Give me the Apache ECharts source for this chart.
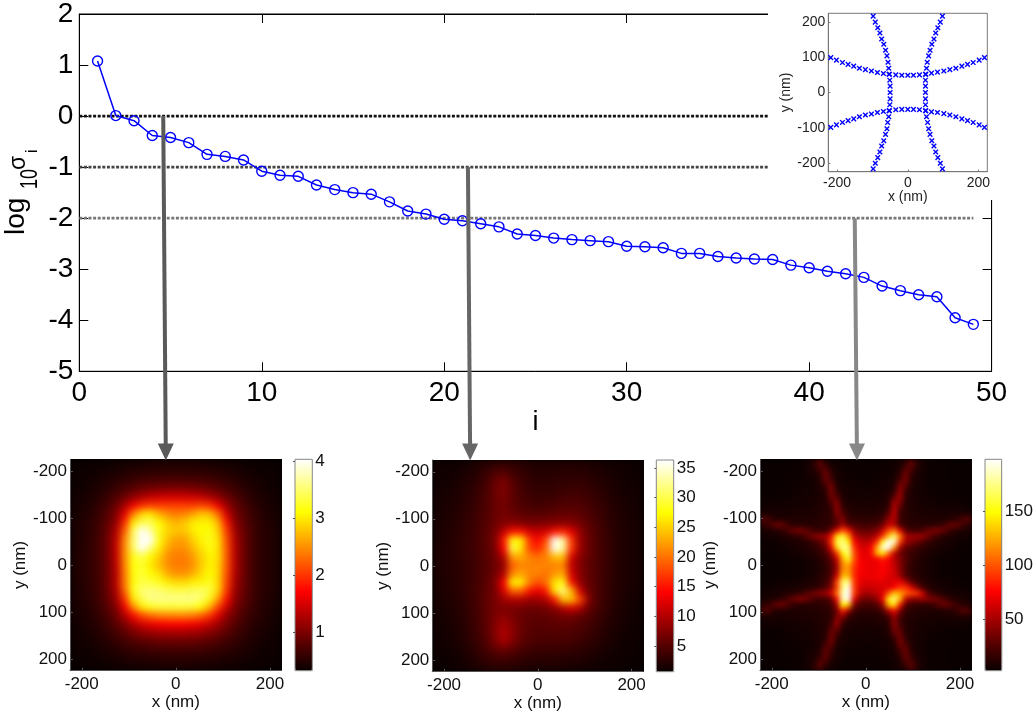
<!DOCTYPE html>
<html><head><meta charset="utf-8">
<style>
html,body{margin:0;padding:0;background:#fff}
#c{width:1036px;height:716px}
canvas[data-zr-dom-id="zr_1"]{filter:blur(3.6px);clip-path:inset(459.3px 754.3px 45.3px 70px)}
canvas[data-zr-dom-id="zr_2"]{filter:blur(3.7px);clip-path:inset(460px 392.7px 44.3px 432.3px)}
canvas[data-zr-dom-id="zr_3"]{filter:blur(2.6px);clip-path:inset(459.3px 64.3px 45.3px 760px)}
</style>
<script src="https://cdn.jsdelivr.net/npm/echarts@6/dist/echarts.min.js"></script>
</head><body><div id="c"></div>
<script>
// ---------- main singular-value curve ----------
const logSigma = [1.08,0.01,-0.09,-0.38,-0.42,-0.52,-0.75,-0.79,-0.86,-1.08,-1.16,-1.18,-1.35,-1.44,-1.50,-1.53,-1.68,-1.86,-1.92,-2.02,-2.05,-2.11,-2.17,-2.31,-2.34,-2.39,-2.42,-2.44,-2.46,-2.55,-2.56,-2.58,-2.69,-2.69,-2.75,-2.78,-2.80,-2.81,-2.92,-2.97,-3.04,-3.09,-3.16,-3.33,-3.42,-3.50,-3.54,-3.95,-4.08];
const indexValues = logSigma.map((_, k) => k + 1);
const levelValues = [0,-1,-2];
const levelColors = ['#111111','#444444','#777777'];
const levelEnd = 49;
// arrows: start / end in main-axes units
const arrowStartX = [4.6,21.3,42.5];
const arrowStartY = [0,-1,-2];
const arrowEndX = [4.74,21.42,42.62];
const arrowEndY = -6.58;
const arrowColors = ['#5a5a5a','#666666','#888888'];

// ---------- inset: nanowire positions (nm) ----------
const topCurveX = [-218,-202,-185,-169,-153,-137,-120,-103,-86,-69,-53,-34,-17,0,16,33,50,67,84,102,119,136,153,169,185,202,217];
const topCurveY = [99,92,85,80,75,69,65,61,57,54,52,50,49,49,49,50,52,55,58,61,65,69,75,80,85,92,99];
const bottomCurveY = [-99,-92,-85,-80,-75,-69,-64,-61,-57,-54,-52,-49,-48,-48,-48,-49,-52,-55,-57,-60,-64,-69,-75,-80,-85,-92,-99];
const leftCurveX = [-98,-92,-85,-79,-74,-68,-63,-59,-56,-54,-52,-51,-50,-50,-50,-51,-52,-54,-57,-59,-63,-68,-74,-79,-85,-92,-98];
const rightCurveX = [98,92,85,79,74,68,63,59,55,53,51,50,50,50,50,50,51,53,56,59,63,68,74,79,85,92,98];
const sideCurveY = [217,200,184,169,152,137,120,104,86,69,52,35,18,0,-18,-35,-52,-69,-85,-103,-119,-137,-152,-169,-185,-201,-217];

// ---------- heat maps: rows top to bottom, columns left to right ----------
const heatA = [
[.33,.33,.34,.35,.36,.38,.40,.41,.43,.44,.45,.45,.45,.45,.45,.44,.43,.41,.40,.38,.36,.35,.34,.33,.33],
[.34,.35,.36,.38,.41,.44,.47,.50,.52,.54,.55,.56,.56,.56,.55,.54,.52,.50,.47,.44,.41,.38,.36,.35,.34],
[.35,.36,.39,.42,.47,.52,.58,.63,.68,.71,.73,.74,.74,.74,.73,.71,.68,.63,.58,.52,.47,.42,.39,.36,.35],
[.36,.38,.42,.47,.54,.63,.72,.82,.90,.96,1.0,1.02,1.03,1.02,1.0,.96,.90,.82,.72,.63,.54,.47,.42,.38,.36],
[.38,.41,.45,.52,.63,.76,.93,1.12,1.28,1.40,1.46,1.49,1.5,1.49,1.46,1.40,1.28,1.12,.93,.76,.63,.52,.45,.41,.38],
[.39,.43,.49,.58,.72,.93,1.25,1.65,1.95,2.05,2.05,2.05,2.05,2.05,2.05,2.1,2.0,1.65,1.2,.9,.72,.58,.49,.43,.39],
[.41,.45,.52,.63,.80,1.05,1.6,2.4,2.9,3.0,2.7,2.5,2.4,2.45,2.6,2.8,2.75,2.3,1.5,1.0,.8,.63,.52,.45,.41],
[.42,.47,.55,.67,.87,1.15,1.95,3.0,3.4,3.4,3.1,2.85,2.7,2.8,3.0,3.05,3.05,2.7,1.85,1.1,.85,.66,.54,.47,.42],
[.43,.48,.57,.69,.92,1.3,2.25,3.4,4.03,3.7,3.2,2.9,2.8,2.8,3.0,3.1,3.15,2.85,2.05,1.2,.9,.68,.55,.48,.43],
[.44,.49,.58,.7,.95,1.38,2.45,3.5,4.03,4.03,3.2,2.8,2.6,2.6,2.85,3.05,3.2,2.95,2.15,1.3,.93,.69,.56,.48,.44],
[.44,.49,.58,.7,.95,1.4,2.5,3.45,4.03,3.6,3.05,2.65,2.5,2.5,2.7,2.95,3.15,2.95,2.2,1.32,.94,.69,.56,.48,.44],
[.44,.5,.58,.7,.95,1.4,2.5,3.2,3.4,3.1,2.85,2.5,2.4,2.4,2.55,2.85,3.05,2.95,2.2,1.32,.94,.69,.56,.48,.44],
[.44,.5,.58,.7,.93,1.38,2.45,3.15,3.25,3.0,2.75,2.5,2.38,2.38,2.5,2.8,3.05,2.9,2.2,1.32,.94,.69,.56,.48,.44],
[.44,.5,.58,.7,.93,1.35,2.4,3.15,3.3,3.1,2.95,2.65,2.5,2.5,2.65,2.9,3.1,2.9,2.15,1.3,.93,.69,.56,.48,.44],
[.44,.49,.58,.7,.93,1.35,2.4,3.15,3.35,3.3,3.2,3.0,2.9,2.9,3.0,3.05,3.2,2.9,2.1,1.25,.92,.69,.56,.48,.44],
[.43,.48,.57,.69,.92,1.3,2.3,3.2,3.5,3.55,3.5,3.4,3.35,3.35,3.4,3.45,3.35,2.9,2.0,1.2,.9,.68,.55,.48,.43],
[.42,.47,.55,.67,.88,1.2,2.0,3.0,3.4,3.6,3.6,3.6,3.6,3.6,3.6,3.5,3.2,2.6,1.8,1.1,.86,.66,.54,.47,.42],
[.41,.46,.53,.64,.82,1.05,1.65,2.45,3.0,3.2,3.3,3.3,3.3,3.3,3.3,3.1,2.7,2.05,1.45,1.0,.8,.63,.52,.45,.41],
[.4,.44,.5,.6,.74,.94,1.3,1.75,2.1,2.3,2.4,2.45,2.45,2.45,2.4,2.25,2.0,1.55,1.15,.9,.72,.59,.5,.44,.4],
[.38,.42,.47,.55,.66,.82,1.02,1.27,1.48,1.6,1.68,1.72,1.72,1.72,1.68,1.58,1.42,1.2,.98,.8,.65,.54,.47,.42,.38],
[.37,.4,.44,.5,.59,.7,.84,.98,1.1,1.18,1.22,1.25,1.25,1.25,1.22,1.17,1.08,.96,.82,.69,.58,.5,.44,.4,.37],
[.36,.38,.41,.46,.52,.6,.68,.76,.83,.87,.9,.92,.92,.92,.9,.87,.82,.75,.67,.59,.52,.46,.41,.38,.36],
[.35,.36,.38,.42,.46,.51,.56,.61,.64,.67,.69,.7,.7,.7,.69,.67,.64,.6,.56,.51,.46,.42,.38,.36,.35],
[.34,.35,.36,.38,.41,.44,.46,.49,.51,.52,.53,.54,.54,.54,.53,.52,.51,.49,.46,.44,.41,.38,.36,.35,.34],
[.33,.33,.34,.35,.36,.38,.39,.41,.42,.43,.44,.44,.44,.44,.44,.43,.42,.41,.39,.38,.36,.35,.34,.33,.33]];
const heatB = [
[1,1,1,1.2,1.5,2,2.5,3,3.3,3,2.6,2.2,2,2,2,2,2,2,1.8,1.6,1.4,1.2,1,1,.8],
[1,1,1.2,1.5,1.9,2.6,3.5,4.6,5,4,3.2,2.7,2.4,2.4,2.4,2.5,2.5,2.5,2.3,2,1.7,1.4,1.2,1,.9],
[1.1,1.2,1.4,1.8,2.3,3,4.2,6,7,5.2,3.9,3.1,2.7,2.7,2.8,2.9,3,3,2.8,2.4,2,1.6,1.3,1.1,1],
[1.2,1.3,1.6,2,2.6,3.4,4.5,6.5,7.3,5.6,4.2,3.4,3,3,3.2,3.5,3.7,3.6,3.3,2.8,2.3,1.8,1.4,1.2,1.1],
[1.3,1.5,1.8,2.2,2.8,3.6,4.7,6.3,7,5.6,4.5,3.8,3.5,3.6,3.9,4.2,4.4,4.3,3.8,3.2,2.6,2,1.6,1.3,1.2],
[1.4,1.6,2,2.4,3,3.8,4.9,6.2,6.7,5.7,4.9,4.4,4.2,4.4,4.7,5,5.1,4.9,4.3,3.6,2.9,2.2,1.7,1.4,1.2],
[1.5,1.7,2.1,2.6,3.2,4,5,6.2,6.8,6.3,5.7,5.4,5.3,5.5,5.8,6,6,5.6,4.8,4,3.1,2.4,1.8,1.5,1.3],
[1.6,1.8,2.2,2.7,3.3,4.2,5.2,6.5,7.5,8,7.6,7.2,7.2,7.4,7.8,8,7.8,6.8,5.5,4.3,3.3,2.5,1.9,1.6,1.3],
[1.7,1.9,2.3,2.8,3.4,4.3,5.4,7,11,15,15,12,11,12,15,16,13,8.5,6,4.6,3.5,2.6,2,1.6,1.3],
[1.7,2,2.4,2.9,3.5,4.4,5.5,7.5,15,28,27,17,14,18,36,33,17,9,6.3,4.7,3.6,2.7,2,1.6,1.3],
[1.8,2,2.4,2.9,3.5,4.4,5.4,7.2,14,30,26,18,16,20,36,33,17,9,6.3,4.8,3.6,2.7,2,1.6,1.4],
[1.8,2,2.4,2.9,3.5,4.3,5.3,6.8,10,22,23,21,20,21,24,24,12,8,6,4.8,3.6,2.7,2,1.7,1.4],
[1.8,2,2.4,2.8,3.4,4.2,5.2,6.5,8.5,19,21,21,21,21,21,21,11,7.5,5.8,4.7,3.6,2.7,2,1.7,1.4],
[1.8,2,2.4,2.8,3.4,4.3,5.3,6.8,10,21,23,21,21,20,22,23,12,8,5.9,4.7,3.6,2.7,2,1.7,1.4],
[1.7,2,2.3,2.8,3.5,4.4,5.5,7.5,14,27,27,21,18,20,26,28,15,8.5,6,4.7,3.5,2.6,2,1.6,1.3],
[1.6,1.9,2.3,2.8,3.5,4.5,5.7,7.2,12,19,19,15,13,15,26,32,24,12,6.7,4.8,3.5,2.6,1.9,1.5,1.3],
[1.5,1.8,2.2,2.7,3.4,4.5,5.8,7,9,10,10,9,9,10,15,24,24,18,8,4.8,3.4,2.5,1.8,1.4,1.2],
[1.4,1.6,2.1,2.6,3.4,4.5,5.8,7,7.3,7,6.7,6.4,6.4,6.8,8,10,12,10,6.3,4.5,3.2,2.3,1.7,1.3,1.1],
[1.3,1.5,1.9,2.4,3.2,4.3,5.7,7.3,8.2,7.2,6.3,5.7,5.6,5.8,6.2,6.6,6.6,5.8,4.9,3.9,2.9,2.1,1.6,1.2,1],
[1.2,1.4,1.8,2.3,3.1,4.2,5.6,7.6,9.2,7.8,6.2,5.5,5.2,5.3,5.5,5.6,5.4,4.9,4.2,3.4,2.6,1.9,1.4,1.1,1],
[1.1,1.3,1.7,2.2,2.9,4,5.4,7.8,10,8.2,6.2,5.3,4.9,4.9,5,4.9,4.7,4.3,3.6,2.9,2.2,1.7,1.3,1,.9],
[1,1.2,1.5,2,2.7,3.7,5,7.2,9,7.4,5.7,4.8,4.4,4.3,4.3,4.2,4,3.6,3.1,2.5,1.9,1.5,1.1,1,.8],
[.9,1,1.3,1.7,2.3,3.2,4.2,5.5,6,5.2,4.4,3.8,3.5,3.4,3.4,3.3,3.1,2.8,2.4,2,1.6,1.2,1,.9,.8],
[.8,.9,1.1,1.4,1.9,2.6,3.3,3.8,3.9,3.6,3.1,2.7,2.5,2.5,2.5,2.4,2.3,2.1,1.8,1.5,1.2,1,.9,.8,.7],
[.7,.8,.9,1.2,1.5,2,2.4,2.7,2.7,2.5,2.2,2,1.9,1.8,1.8,1.8,1.7,1.5,1.3,1.1,1,.9,.8,.7,.7]];
const heatC = [
[2,2,2,2,2,3,3,4,6,14,28,10,5,4,3,3,3,3,3,3,3,3,4,5,7,14,30,12,6,4,3,3,3,2,2,2,2],
[2,2,2,2,2,3,3,4,7,10,26,24,8,5,4,3,3,3,3,3,3,4,4,5,8,24,28,10,6,4,3,3,3,2,2,2,2],
[2,2,2,2,3,3,3,4,6,8,14,34,16,6,5,4,4,3,3,3,4,4,5,6,14,36,16,8,5,4,3,3,3,2,2,2,2],
[2,2,2,2,3,3,3,4,5,7,10,34,20,7,5,4,4,4,4,4,4,5,5,7,20,38,12,7,5,4,3,3,3,2,2,2,2],
[2,2,2,3,3,3,4,4,5,6,9,22,36,9,6,5,5,4,4,4,5,5,6,9,36,30,10,6,5,4,3,3,3,3,2,2,2],
[2,2,3,3,3,4,4,5,5,6,8,14,38,14,7,6,5,5,5,5,5,6,7,14,44,18,9,6,5,4,4,3,3,3,2,2,2],
[3,3,3,3,4,4,5,5,6,7,8,11,36,24,8,7,6,6,5,6,6,7,9,26,50,14,9,7,5,5,4,4,3,3,3,3,3],
[4,4,4,4,5,5,5,6,6,7,9,10,26,40,10,8,7,7,6,7,7,8,11,48,40,12,9,7,6,5,5,4,4,4,4,4,3],
[5,5,5,5,5,6,6,7,7,8,9,11,17,44,16,10,9,8,8,8,9,10,16,56,26,12,9,8,7,6,6,5,5,5,5,5,4],
[8,7,7,7,7,7,8,8,8,9,10,12,14,42,26,12,11,10,10,10,11,13,28,60,20,12,10,9,8,7,7,7,7,8,8,8,8],
[26,22,12,9,9,9,9,9,10,10,11,13,15,32,38,17,15,14,13,14,16,20,44,56,20,13,11,10,9,9,9,9,9,10,14,24,28],
[14,18,30,34,26,14,11,11,11,12,13,14,18,28,48,28,24,21,20,21,24,34,60,55,22,15,13,12,12,11,12,14,24,34,32,20,14],
[7,8,10,13,20,30,38,36,28,18,16,18,34,70,100,80,42,32,30,32,38,60,95,110,70,28,20,18,24,34,40,38,28,16,11,9,7],
[5,5,6,7,9,11,14,20,30,40,46,48,80,140,160,120,62,46,44,46,60,90,135,170,115,55,48,50,46,34,22,14,10,8,6,5,5],
[3,4,4,5,6,7,8,10,13,18,28,40,90,160,175,145,78,60,54,62,90,155,198,190,95,48,40,32,24,16,12,9,7,6,5,4,3],
[3,3,4,4,5,6,7,8,11,14,20,30,70,140,180,170,90,66,64,76,125,190,198,120,52,30,24,18,14,11,9,7,6,5,4,3,3],
[2,3,3,4,4,5,6,7,9,11,15,22,44,90,150,170,100,72,68,78,125,145,105,60,34,24,18,14,10,8,6,5,4,4,3,3,2],
[2,2,2,3,3,4,4,5,6,8,11,17,30,62,125,155,100,74,70,72,74,84,74,56,40,26,17,12,9,7,5,4,4,3,3,2,2],
[2,2,2,2,3,3,4,4,5,7,9,15,24,50,115,125,92,76,72,70,72,76,70,60,40,24,15,11,8,6,5,4,3,3,2,2,2],
[2,2,2,2,3,3,4,4,5,7,9,14,24,50,115,120,88,74,72,70,72,76,70,62,44,24,15,11,8,6,5,4,3,3,2,2,2],
[2,2,2,3,3,4,4,5,6,8,11,16,28,66,130,130,88,74,72,72,74,74,68,64,48,26,17,12,9,7,5,4,4,3,3,2,2],
[3,3,3,4,4,5,5,6,8,10,13,19,34,95,170,175,92,70,66,66,68,68,64,68,72,52,28,18,12,9,7,5,5,4,3,3,3],
[4,4,5,5,6,6,7,8,10,12,16,24,42,95,175,195,92,64,60,62,64,64,68,76,90,90,68,40,20,12,8,6,5,5,4,4,3],
[5,5,6,7,9,11,14,20,28,36,42,48,64,110,185,198,95,58,50,52,58,66,100,135,125,105,96,90,60,25,16,11,8,6,5,5,5],
[7,8,10,13,20,30,38,40,32,22,18,20,30,80,185,195,70,38,33,35,44,72,145,175,130,60,44,42,48,40,38,30,20,13,9,8,7],
[12,18,28,36,30,18,12,11,11,12,13,15,20,52,150,130,38,24,20,21,26,46,125,145,82,28,18,15,13,14,20,30,34,26,18,12,9],
[24,26,12,9,9,9,9,9,10,10,11,13,17,36,85,52,20,15,14,15,17,24,56,78,40,16,13,11,10,9,9,9,10,12,18,28,26],
[9,8,7,7,7,7,8,8,8,9,10,11,13,38,46,18,12,10,10,10,11,13,22,48,24,12,10,9,8,7,7,7,7,8,8,10,10],
[5,5,5,5,5,6,6,7,7,8,9,11,17,50,20,10,9,8,8,8,9,10,14,44,20,11,9,8,7,6,6,5,5,5,5,5,5],
[4,4,4,4,5,5,5,6,6,7,9,10,26,38,10,8,7,7,6,7,7,8,11,40,26,10,9,7,6,5,5,4,4,4,4,4,3],
[3,3,3,3,4,4,5,5,6,7,8,11,36,22,8,7,6,6,5,6,6,7,9,30,34,12,9,7,5,5,4,4,3,3,3,3,3],
[2,2,3,3,3,4,4,5,5,6,8,14,36,14,7,6,5,5,5,5,5,6,7,14,38,16,9,6,5,4,4,3,3,3,2,2,2],
[2,2,2,3,3,3,4,4,5,6,9,22,32,9,6,5,5,4,4,4,5,5,6,9,36,24,10,6,5,4,3,3,3,3,2,2,2],
[2,2,2,2,3,3,3,4,5,7,10,32,18,7,5,4,4,4,4,4,4,5,5,7,20,34,12,7,5,4,3,3,3,2,2,2,2],
[2,2,2,2,3,3,3,4,6,8,14,32,14,6,5,4,4,3,3,3,4,4,5,6,14,34,16,8,5,4,3,3,3,2,2,2,2],
[2,2,2,2,2,3,3,4,7,10,26,22,8,5,4,3,3,3,3,3,3,4,4,5,8,24,26,10,6,4,3,3,3,2,2,2,2],
[2,2,2,2,2,3,3,4,6,14,26,10,5,4,3,3,3,3,3,3,3,3,4,5,7,14,28,12,6,4,3,3,3,2,2,2,2]];
const barTicksA = [1,2,3,4];
const barTicksB = [5,10,15,20,25,30,35];
const barTicksC = [50,100,150];
const barRanges = [[0.33,4.03],[0.67,36.35],[2.2,198.7]];
const nmLabels = [-200,0,200];
const nmTicksX = [-200,0,200];
const nmTicksY = [-200,-100,0,100,200];
const nmLimit = 225;
const hot = ['#0a0000','#550000','#aa0000','#ff0000','#ff5500','#ffaa00','#ffff00','#ffff80','#ffffff'];

const FONT = '"Liberation Sans", Arial, sans-serif';
const panels = [
  {heat:heatA, bar:barTicksA, range:barRanges[0], x:70,    y:459.3, w:211.7, h:211.4, bx:295,   bw:17.3, zl:1},
  {heat:heatB, bar:barTicksB, range:barRanges[1], x:432.3, y:460,   w:211,   h:211.7, bx:656.3, bw:17.4, zl:2},
  {heat:heatC, bar:barTicksC, range:barRanges[2], x:760,   y:459.3, w:211.7, h:211.4, bx:985,   bw:17.3, zl:3}
];
const OVER = 5, TOP = 6;
const grids = [{left:79.3, top:12.3, width:912.3, height:359, show:true, borderColor:'#000', borderWidth:1},
               {left:828.3, top:13.3, width:159, height:158.4, show:true, borderColor:'#777', borderWidth:1, z:10}];
const xAxes = [
  {gridIndex:0, type:'value', min:0, max:50, interval:10, splitLine:{show:false},
   axisLine:{onZero:false,lineStyle:{color:'#000',width:1}}, axisTick:{inside:true,length:9,lineStyle:{color:'#000'}},
   axisLabel:{fontFamily:FONT,fontSize:28,color:'#000',margin:8,showMinLabel:true,showMaxLabel:true,hideOverlap:false},
   name:'i', nameLocation:'middle', nameGap:38, nameTextStyle:{fontFamily:FONT,fontSize:27,color:'#000'}},
  {gridIndex:0, type:'value', position:'top', min:0, max:50, interval:10, splitLine:{show:false},
   axisLine:{onZero:false,lineStyle:{color:'#000',width:1}}, axisTick:{inside:true,length:9,lineStyle:{color:'#000'}}, axisLabel:{show:false}},
  {gridIndex:1, type:'value', min:-nmLimit, max:nmLimit, z:10, splitLine:{show:false},
   axisLine:{onZero:false,lineStyle:{color:'#777'}}, axisTick:{inside:true,length:2,lineStyle:{color:'#777'},customValues:nmTicksX},
   axisLabel:{fontFamily:FONT,fontSize:14,color:'#222',margin:4,customValues:nmLabels},
   name:'x (nm)', nameLocation:'middle', nameGap:17, nameTextStyle:{fontFamily:FONT,fontSize:14,color:'#222'}}
];
const yAxes = [
  {gridIndex:0, type:'value', min:-5, max:2, interval:1, splitLine:{show:false},
   axisLine:{onZero:false,lineStyle:{color:'#000',width:1}}, axisTick:{inside:true,length:9,lineStyle:{color:'#000'}},
   axisLabel:{fontFamily:FONT,fontSize:28,color:'#000',margin:6,showMinLabel:true,showMaxLabel:true,hideOverlap:false}},
  {gridIndex:0, type:'value', position:'right', min:-5, max:2, interval:1, splitLine:{show:false},
   axisLine:{onZero:false,lineStyle:{color:'#000',width:1}}, axisTick:{inside:true,length:9,lineStyle:{color:'#000'}}, axisLabel:{show:false}},
  {gridIndex:1, type:'value', min:-nmLimit, max:nmLimit, z:10, splitLine:{show:false},
   axisLine:{onZero:false,lineStyle:{color:'#777'}}, axisTick:{inside:true,length:2,lineStyle:{color:'#777'},customValues:nmTicksY},
   axisLabel:{fontFamily:FONT,fontSize:14,color:'#222',margin:3,customValues:nmTicksY},
   name:'y (nm)', nameLocation:'middle', nameGap:28, nameTextStyle:{fontFamily:FONT,fontSize:14,color:'#222'}}
];
const series = [];
// reference levels
levelValues.forEach((v,k)=>series.push({type:'line',xAxisIndex:0,yAxisIndex:0,symbol:'none',silent:true,z:2,
  data:[[0,v],[levelEnd,v]],lineStyle:{color:levelColors[k],width:2.6,type:[3,1.6]}}));
// singular values
series.push({type:'line',xAxisIndex:0,yAxisIndex:0,z:3,symbol:'circle',symbolSize:10,showAllSymbol:true,
  data:indexValues.map((x,k)=>[x,logSigma[k]]),lineStyle:{color:'#0000ff',width:1.5},
  itemStyle:{color:'transparent',borderColor:'#0000ff',borderWidth:1.4}});
// inset curves
const cross='path://M0 0L10 10M0 10L10 0';
[[topCurveX,topCurveY],[topCurveX,bottomCurveY],[leftCurveX,sideCurveY],[rightCurveX,sideCurveY]].forEach(([xs,ys])=>{
  series.push({type:'scatter',xAxisIndex:2,yAxisIndex:2,z:11,symbol:cross,symbolSize:4.6,
    data:xs.map((x,k)=>[x,ys[k]]),itemStyle:{color:'none',borderColor:'#0000ff',borderWidth:1.4,opacity:1}});
});
const visualMaps = [], graphics = [];
panels.forEach((p,n)=>{
  // heat cells on band axes
  const gi = grids.length;
  grids.push({left:p.x,top:p.y,width:p.w,height:p.h});
  const cells = p.heat[0].map((_,k)=>k);
  xAxes.push({gridIndex:gi,type:'category',data:cells,show:false,zlevel:p.zl});
  yAxes.push({gridIndex:gi,type:'category',data:cells,inverse:true,show:false,zlevel:p.zl});
  const data=[]; p.heat.forEach((row,r)=>row.forEach((v,c)=>data.push([c,r,v])));
  const si = series.length;
  series.push({type:'heatmap',xAxisIndex:xAxes.length-1,yAxisIndex:yAxes.length-1,data,zlevel:p.zl,z:3,
    progressive:0,animation:false,itemStyle:{borderWidth:0},emphasis:{disabled:true}});
  visualMaps.push({type:'continuous',seriesIndex:si,min:p.range[0],max:p.range[1],inRange:{color:hot},
    left:p.bx,top:p.y,itemWidth:p.bw,itemHeight:p.h,padding:0,text:null,calculable:false,hoverLink:false,zlevel:0});
  graphics.push({type:'rect',zlevel:p.zl,z:0,shape:{x:p.x-16,y:p.y-16,width:p.w+32,height:p.h+32},style:{fill:'#000'},silent:true});
  // nm axes over the cells
  const gv = grids.length;
  grids.push({left:p.x,top:p.y,width:p.w,height:p.h});
  xAxes.push({gridIndex:gv,type:'value',min:-nmLimit,max:nmLimit,zlevel:OVER,splitLine:{show:false},
    axisLine:{onZero:false,lineStyle:{color:'#555'}},axisTick:{inside:true,length:3,lineStyle:{color:'#555'},customValues:nmTicksX},
    axisLabel:{fontFamily:FONT,fontSize:17,color:'#111',margin:5,customValues:nmLabels},
    name:'x (nm)',nameLocation:'middle',nameGap:22,nameTextStyle:{fontFamily:FONT,fontSize:17,color:'#111'}});
  yAxes.push({gridIndex:gv,type:'value',min:-nmLimit,max:nmLimit,inverse:true,zlevel:OVER,splitLine:{show:false},
    axisLine:{onZero:false,lineStyle:{color:'#555'}},axisTick:{inside:true,length:3,lineStyle:{color:'#555'},customValues:nmTicksY},
    axisLabel:{fontFamily:FONT,fontSize:17,color:'#111',margin:3,customValues:nmTicksY},
    name:'y (nm)',nameLocation:'middle',nameGap:36,nameTextStyle:{fontFamily:FONT,fontSize:17,color:'#111'}});
  // colour bar ticks
  const gb = grids.length;
  grids.push({left:p.bx,top:p.y,width:p.bw,height:p.h,show:true,borderColor:'#888',borderWidth:1,backgroundColor:'transparent',zlevel:OVER});
  xAxes.push({gridIndex:gb,type:'value',min:0,max:1,show:false});
  yAxes.push({gridIndex:gb,type:'value',position:'right',min:p.range[0],max:p.range[1],zlevel:OVER,splitLine:{show:false},
    axisLine:{show:false},axisTick:{inside:true,length:2,lineStyle:{color:'#555'},customValues:p.bar},
    axisLabel:{fontFamily:FONT,fontSize:17,color:'#111',margin:3,customValues:p.bar}});
});
// arrows
arrowStartX.forEach((x,k)=>series.push({type:'line',xAxisIndex:0,yAxisIndex:0,clip:false,zlevel:TOP,z:20,silent:true,showAllSymbol:true,
  data:[{value:[x,arrowStartY[k]],symbol:'none'},
        {value:[arrowEndX[k],arrowEndY],symbol:'triangle',symbolRotate:180,symbolSize:[16,17]}],
  lineStyle:{color:arrowColors[k],width:4},itemStyle:{color:arrowColors[k]}}));
// white panel behind the inset; y-label pieces
graphics.push({type:'rect',z:5,shape:{x:768,y:0,width:268,height:200},style:{fill:'#fff'},silent:true});
const labelPieces=[['log',30,235,28,1],['10',43,189,18,1.37],['σ',30,170,23,1],['i',41,153,16,1]];
labelPieces.forEach(([t,x,y,s,tall])=>graphics.push({type:'text',x,y,rotation:Math.PI/2,scaleY:tall,silent:true,z:6,
  style:{text:t,font:s+'px '+FONT,fill:'#000',textAlign:'left',textVerticalAlign:'bottom'}}));

const chart = echarts.init(document.getElementById('c'),null,{renderer:'canvas',width:1036,height:716});
chart.setOption({animation:false,backgroundColor:'#fff',grid:grids,xAxis:xAxes,yAxis:yAxes,visualMap:visualMaps,series,graphic:{elements:graphics}});
</script></body></html>
